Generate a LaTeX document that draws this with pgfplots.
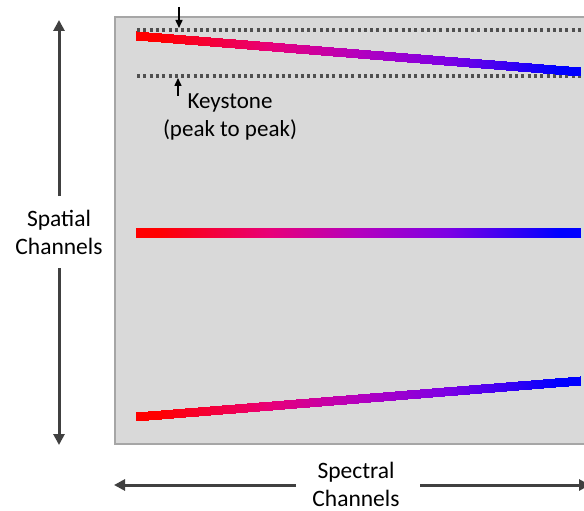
\documentclass[border=0pt]{standalone}
\usepackage{pgfplots}
\pgfplotsset{compat=1.18}
\usepackage{fontspec}
\setmainfont{Carlito}
\usetikzlibrary{arrows.meta}
\definecolor{bgray}{RGB}{217,217,217}
\definecolor{bord}{RGB}{166,166,166}
\definecolor{arr}{RGB}{64,64,64}
\definecolor{dotc}{RGB}{80,80,80}
\begin{document}
\begin{tikzpicture}[x=1pt,y=1pt]
\begin{axis}[
  x=1pt, y=1pt,
  scale only axis, hide axis,
  xmin=0, xmax=584, ymin=0, ymax=511,
  y dir=reverse,
  clip=true,
  colormap={rb}{rgb255(0pt)=(255,0,0) rgb255(5pt)=(255,0,0) rgb255(30pt)=(232,0,120) rgb255(50pt)=(180,0,190) rgb255(70pt)=(125,0,228) rgb255(95pt)=(0,0,255) rgb255(100pt)=(0,0,255)},
  point meta min=136, point meta max=580,
]
\path[use as bounding box] (rel axis cs:0,0) rectangle (rel axis cs:1,1);
% background box
\addplot[fill=bgray, draw=bord, line width=1.5pt] coordinates {(115,17) (600,17) (600,444) (115,444)} -- cycle;
% dotted guides
\addplot[dotc, line width=3.2pt, line cap=butt, dash pattern=on 3pt off 3.3pt] coordinates {(137,30) (582,30)};
\addplot[dotc, line width=3.2pt, line cap=butt, dash pattern=on 3pt off 3.3pt] coordinates {(137,76) (582,76)};
% gradient lines as shaded patches
\addplot[patch, shader=interp, point meta=x] coordinates {
  (136,31.5) (580,66.5) (580,75.5)
  (136,31.5) (580,75.5) (136,40.5)
};
\addplot[patch, shader=interp, point meta=x] coordinates {
  (136,228) (581,228) (581,237)
  (136,228) (581,237) (136,237)
};
\addplot[patch, shader=interp, point meta=x] coordinates {
  (136,411.5) (580,376) (580,385)
  (136,411.5) (580,385) (136,420.5)
};
% small keystone arrows
\addplot[black, line width=1.5pt, -{Triangle[width=7pt,length=8pt]}] coordinates {(179,7) (179,28)};
\addplot[black, line width=1.5pt, -{Triangle[width=7pt,length=8pt]}] coordinates {(178,96) (178,78)};
% spatial arrows
\addplot[arr, line width=3pt, -{Triangle[width=11pt,length=11pt]}] coordinates {(59,196) (59,20)};
\addplot[arr, line width=3pt, -{Triangle[width=11pt,length=11pt]}] coordinates {(59,268) (59,445)};
% spectral arrows
\addplot[arr, line width=3pt, -{Triangle[width=11pt,length=11pt]}] coordinates {(296,485) (114,485)};
\addplot[arr, line width=3pt, -{Triangle[width=11pt,length=11pt]}] coordinates {(420,485) (590,485)};
% texts
\node[align=center, font=\fontsize{23}{28}\selectfont] at (axis cs:230,117) {Keystone\\(peak to peak)};
\node[align=center, fill=white, inner sep=1pt, font=\fontsize{23.5}{28}\selectfont] at (axis cs:59,232) {Spatial\\Channels};
\node[align=center, font=\fontsize{23.5}{28}\selectfont] at (axis cs:356,484) {Spectral\\Channels};
\end{axis}
\end{tikzpicture}
\end{document}
